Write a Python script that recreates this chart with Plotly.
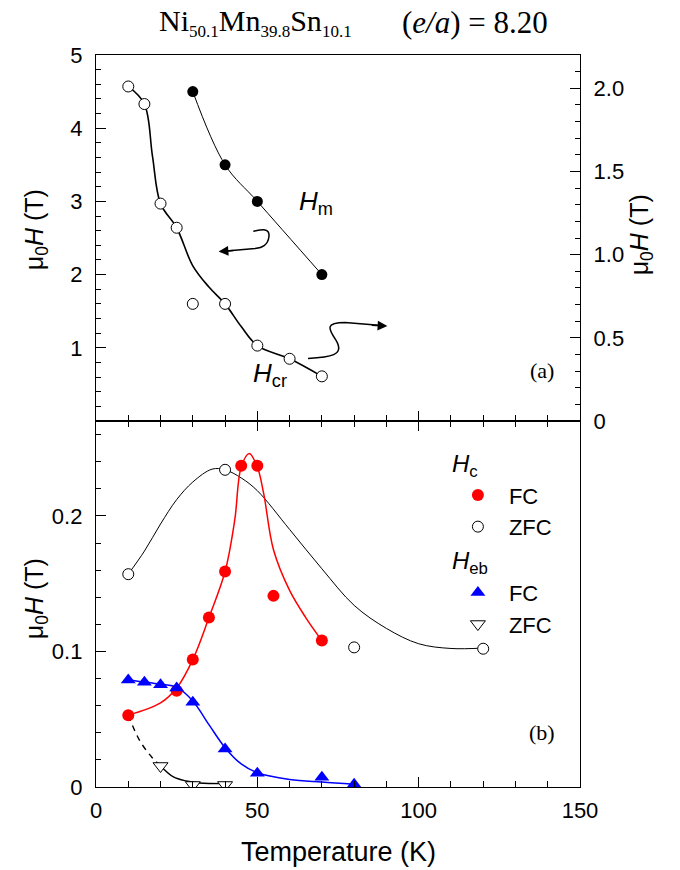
import plotly.graph_objects as go

# ---------------- data ----------------
# Panel (a): left axis (T)
hm_T = [30, 40, 50, 70]
hm_H = [4.5, 3.5, 3.0, 2.0]
hcr_T = [10, 15, 20, 25, 30, 40, 50, 60, 70]
hcr_H = [4.57, 4.33, 2.97, 2.64, 1.60, 1.60, 1.03, 0.85, 0.61]
hcr_fit_T = [10, 15, 17.5, 20, 25, 30, 35, 40, 45, 50, 60, 70]
hcr_fit_H = [4.57, 4.33, 3.62, 2.97, 2.64, 2.12, 1.83, 1.60, 1.29, 1.03, 0.85, 0.61]

# Panel (b)
hc_fc_T = [10, 25, 30, 35, 40, 45, 50, 55, 70]
hc_fc = [0.053, 0.071, 0.094, 0.125, 0.159, 0.237, 0.237, 0.141, 0.108]
hc_fc_fit_T = [10, 20, 25, 30, 35, 40, 43, 45, 47.5, 50, 52, 55, 60, 65, 70]
hc_fc_fit = [0.053, 0.062, 0.073, 0.094, 0.125, 0.159, 0.197, 0.236, 0.246, 0.236, 0.216,
             0.175, 0.145, 0.125, 0.108]

hc_zfc_T = [10, 40, 80, 120]
hc_zfc = [0.157, 0.234, 0.103, 0.102]
hc_zfc_fit_T = [10, 15, 20, 25, 30, 36, 40, 45, 50, 60, 70, 80, 90, 100, 110, 120]
hc_zfc_fit = [0.157, 0.174, 0.194, 0.212, 0.225, 0.2345, 0.234, 0.228, 0.2186, 0.19,
              0.161, 0.134, 0.117, 0.1057, 0.1022, 0.1025]

heb_fc_T = [10, 15, 20, 25, 30, 40, 50, 70, 80]
heb_fc = [0.079, 0.0772, 0.0755, 0.073, 0.0625, 0.028, 0.0102, 0.0072, 0.002]
heb_fc_fit_T = [10, 15, 20, 25, 30, 35, 40, 45, 50, 60, 70, 80]
heb_fc_fit = [0.079, 0.0775, 0.0758, 0.0735, 0.0635, 0.046, 0.029, 0.017, 0.0105, 0.0056,
              0.0036, 0.002]

heb_zfc_T = [20, 30, 40]
heb_zfc = [0.0155, 0.0015, 0.0015]
heb_zfc_fit_T = [20, 24, 28, 32, 40]
heb_zfc_fit = [0.0155, 0.0074, 0.0044, 0.003, 0.0025]
heb_zfc_dash_T = [10, 13.6, 17.3, 20]
heb_zfc_dash = [0.053, 0.034, 0.022, 0.0155]

# axis tick labels
x_tickvals = [0, 50, 100, 150]
ya_tickvals = [1, 2, 3, 4, 5]
yr_tickvals = [0, 0.5, 1.0, 1.5, 2.0]
yr_ticktext = ["0", "0.5", "1.0", "1.5", "2.0"]
yb_tickvals = [0, 0.1, 0.2]
yb_ticktext = ["0", "0.1", "0.2"]

# decorative squiggle arrows (panel a, data coords of left axis)
arrow_left_path = [(48.75, 2.592), (51.4, 2.615), (53.9, 2.643), (53.6, 2.52),
                   (53.3, 2.397), (51.4, 2.37), (49.3, 2.356), (38.6, 2.315)]
arrow_right_path = [(65.7, 0.855), (72.5, 0.869), (77.2, 0.896), (74.4, 1.101),
                    (71.9, 1.265), (71.0, 1.347), (77.2, 1.347), (89.5, 1.30)]

SANS = "Liberation Sans"
SERIF = "Liberation Serif"

fig = go.Figure()

# ---------- panel (a) ----------
fig.add_trace(go.Scatter(x=hm_T, y=hm_H, mode="lines", line=dict(color="black", width=1, shape="spline"),
                         xaxis="x2", yaxis="y2", showlegend=False))
fig.add_trace(go.Scatter(x=hcr_fit_T, y=hcr_fit_H, mode="lines",
                         line=dict(color="black", width=1.6, shape="spline"),
                         xaxis="x2", yaxis="y2", showlegend=False))
fig.add_trace(go.Scatter(x=hm_T, y=hm_H, mode="markers",
                         marker=dict(symbol="circle", size=11, color="black"),
                         xaxis="x2", yaxis="y2", showlegend=False))
fig.add_trace(go.Scatter(x=hcr_T, y=hcr_H, mode="markers",
                         marker=dict(symbol="circle", size=11, color="white", line=dict(color="black", width=1)),
                         xaxis="x2", yaxis="y2", showlegend=False))
# invisible trace to activate right axis
fig.add_trace(go.Scatter(x=[None], y=[None], xaxis="x2", yaxis="y3", showlegend=False, hoverinfo="skip"))

# ---------- panel (b) ----------
fig.add_trace(go.Scatter(x=hc_zfc_fit_T, y=hc_zfc_fit, mode="lines",
                         line=dict(color="black", width=1, shape="spline"), showlegend=False))
fig.add_trace(go.Scatter(x=hc_fc_fit_T, y=hc_fc_fit, mode="lines",
                         line=dict(color="#ff0000", width=1.5, shape="spline"), showlegend=False))
fig.add_trace(go.Scatter(x=heb_fc_fit_T, y=heb_fc_fit, mode="lines",
                         line=dict(color="#0000ff", width=1.5, shape="spline"), showlegend=False))
fig.add_trace(go.Scatter(x=heb_zfc_fit_T, y=heb_zfc_fit, mode="lines",
                         line=dict(color="black", width=1.4, shape="spline"), showlegend=False))
fig.add_trace(go.Scatter(x=heb_zfc_dash_T, y=heb_zfc_dash, mode="lines",
                         line=dict(color="black", width=1.4, dash="6px,5px", shape="spline"), showlegend=False))

fig.add_trace(go.Scatter(x=hc_fc_T, y=hc_fc, mode="markers", name="FC",
                         legendgroup="hc", legendgrouptitle=dict(text="<i>H</i><sub>c</sub>"),
                         marker=dict(symbol="circle", size=12, color="#ff0000")))
fig.add_trace(go.Scatter(x=hc_zfc_T, y=hc_zfc, mode="markers", name="ZFC", legendgroup="hc",
                         marker=dict(symbol="circle", size=11, color="white", line=dict(color="black", width=1))))
fig.add_trace(go.Scatter(x=heb_fc_T, y=heb_fc, mode="markers", name="FC",
                         legendgroup="heb", legendgrouptitle=dict(text="<i>H</i><sub>eb</sub>"),
                         marker=dict(symbol="triangle-up", size=13, color="#0000ff")))
fig.add_trace(go.Scatter(x=heb_zfc_T, y=heb_zfc, mode="markers", name="ZFC", legendgroup="heb",
                         marker=dict(symbol="triangle-down", size=13, color="white",
                                     line=dict(color="black", width=1))))

axis_common = dict(showgrid=False, zeroline=False, showline=True, linecolor="black", linewidth=1.3,
                   ticks="inside", tickcolor="black", tickwidth=1.2, ticklen=10,
                   tickfont=dict(family=SANS, size=22, color="black"))

fig.update_layout(
    width=680, height=870,
    margin=dict(l=88, r=108, t=47, b=91),
    paper_bgcolor="white", plot_bgcolor="white",
    xaxis=dict(domain=[0, 1], anchor="y", range=[0, 150], tickvals=x_tickvals, mirror="ticks",
               minor=dict(dtick=10, tick0=0, ticks="inside", ticklen=6, tickcolor="black", showgrid=False),
               ticklabelstandoff=3, **axis_common),
    yaxis=dict(domain=[0, 0.5], anchor="x", range=[0, 0.27], tickvals=yb_tickvals, ticktext=yb_ticktext,
               mirror=True,
               minor=dict(dtick=0.02, tick0=0, ticks="inside", ticklen=5, tickcolor="black", showgrid=False),
               ticklabelstandoff=8, **axis_common),
    xaxis2=dict(domain=[0, 1], anchor="y2", range=[0, 150], showticklabels=False, mirror=True,
                tickvals=x_tickvals,
                minor=dict(dtick=10, tick0=0, ticks="inside", ticklen=6, tickcolor="black", showgrid=False),
                **axis_common),
    yaxis2=dict(domain=[0.5, 1], anchor="x2", range=[0, 5], tickvals=ya_tickvals,
                minor=dict(dtick=0.2, tick0=0, ticks="inside", ticklen=5, tickcolor="black", showgrid=False),
                ticklabelstandoff=8, **axis_common),
    yaxis3=dict(overlaying="y2", anchor="x2", side="right", range=[0, 2.2], tickvals=yr_tickvals,
                ticktext=yr_ticktext,
                minor=dict(dtick=0.1, tick0=0, ticks="inside", ticklen=5, tickcolor="black", showgrid=False),
                ticklabelstandoff=8, **axis_common),
    legend=dict(x=0.725, y=0.474, xanchor="left", yanchor="top",
                font=dict(family=SANS, size=22, color="black"),
                grouptitlefont=dict(family=SANS, size=24, color="black"),
                itemwidth=52,
                tracegroupgap=0, bgcolor="rgba(0,0,0,0)", itemsizing="trace", traceorder="grouped"),
    showlegend=True,
)

def to_path(pts):
    p = "M %g,%g" % pts[0]
    p += " C %g,%g %g,%g %g,%g" % (pts[1] + pts[2] + pts[3])
    p += " C %g,%g %g,%g %g,%g" % (pts[4] + pts[5] + pts[6])
    p += " L %g,%g" % pts[7]
    return p

for pts in (arrow_left_path, arrow_right_path):
    fig.add_shape(type="path", path=to_path(pts), xref="x2", yref="y2",
                  line=dict(color="black", width=1.5))

# arrowheads
fig.add_annotation(x=38.0, y=2.314, ax=43, ay=2.33, xref="x2", yref="y2", axref="x2", ayref="y2",
                   text="", showarrow=True, arrowhead=2, arrowsize=1.3, arrowwidth=1.5, arrowcolor="black")
fig.add_annotation(x=90.3, y=1.297, ax=85, ay=1.31, xref="x2", yref="y2", axref="x2", ayref="y2",
                   text="", showarrow=True, arrowhead=2, arrowsize=1.3, arrowwidth=1.5, arrowcolor="black")

# text labels in panels
fig.add_annotation(x=68.3, y=2.98, xref="x2", yref="y2", text="<i>H</i><sub>m</sub>", showarrow=False,
                   font=dict(family=SANS, size=26, color="black"))
fig.add_annotation(x=53.9, y=0.64, xref="x2", yref="y2", text="<i>H</i><sub>cr</sub>", showarrow=False,
                   font=dict(family=SANS, size=26, color="black"))
fig.add_annotation(x=138.1, y=0.69, xref="x2", yref="y2", text="(a)", showarrow=False,
                   font=dict(family=SERIF, size=22, color="black"))
fig.add_annotation(x=138.2, y=0.0405, xref="x", yref="y", text="(b)", showarrow=False,
                   font=dict(family=SERIF, size=22, color="black"))

# title
sub = '<sub><span style="font-size:17px">%s</span></sub>'
fig.add_annotation(x=0.126, y=1.045, xref="paper", yref="paper", xanchor="left", yanchor="middle",
                   text="Ni" + sub % "50.1" + "Mn" + sub % "39.8" + "Sn" + sub % "10.1", showarrow=False,
                   font=dict(family=SERIF, size=30, color="black"))
fig.add_annotation(x=0.628, y=1.045, xref="paper", yref="paper", xanchor="left", yanchor="middle",
                   text="(<i>e/a</i>) = 8.20", showarrow=False,
                   font=dict(family=SERIF, size=31, color="black"))

# axis titles
ytitle = "\u03bc<sub>0</sub><i>H</i> (T)"
for xp, yp in ((-0.124, 0.762), (-0.124, 0.258), (1.126, 0.755)):
    fig.add_annotation(x=xp, y=yp, xref="paper", yref="paper", xanchor="center", yanchor="middle",
                       text=ytitle, textangle=-90, showarrow=False,
                       font=dict(family=SANS, size=25, color="black"))
fig.add_annotation(x=0.5, y=-0.0888, xref="paper", yref="paper", xanchor="center", yanchor="middle",
                   text="Temperature (K)",
                   showarrow=False, font=dict(family=SANS, size=27, color="black"))

fig.write_html("out.html")
